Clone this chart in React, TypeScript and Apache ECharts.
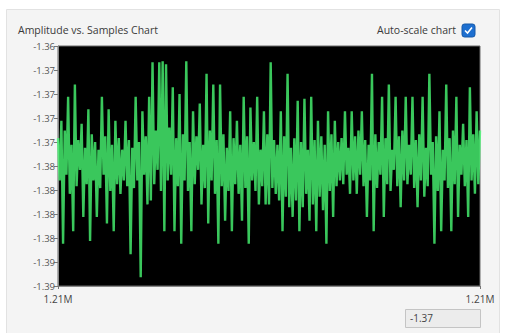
import React, { useEffect, useRef } from "react";
import * as echarts from "echarts";

// Acquired amplitude samples (volts), one per sample index
const amplitudes: number[] = [
  -1.3721, -1.3765, -1.3703, -1.3831, -1.3713, -1.3759, -1.3678, -1.3779, -1.3728, -1.3818,
  -1.3665, -1.3771, -1.3723, -1.3754, -1.3706, -1.3803, -1.3731, -1.3769, -1.3691, -1.3828,
  -1.3717, -1.3765, -1.3725, -1.3803, -1.3733, -1.3773, -1.3678, -1.3759, -1.3719, -1.3810,
  -1.3691, -1.3776, -1.3728, -1.3818, -1.3703, -1.3769, -1.3721, -1.3779, -1.3733, -1.3765,
  -1.3703, -1.3771, -1.3723, -1.3842, -1.3731, -1.3773, -1.3678, -1.3765, -1.3725, -1.3866,
  -1.3693, -1.3759, -1.3719, -1.3790, -1.3678, -1.3786, -1.3642, -1.3769, -1.3713, -1.3754,
  -1.3642, -1.3776, -1.3641, -1.3818, -1.3644, -1.3765, -1.3710, -1.3759, -1.3668, -1.3818,
  -1.3721, -1.3771, -1.3675, -1.3831, -1.3717, -1.3765, -1.3641, -1.3776, -1.3725, -1.3818,
  -1.3693, -1.3769, -1.3719, -1.3754, -1.3685, -1.3790, -1.3728, -1.3773, -1.3654, -1.3810,
  -1.3713, -1.3765, -1.3665, -1.3779, -1.3723, -1.3831, -1.3665, -1.3771, -1.3717, -1.3807,
  -1.3731, -1.3776, -1.3693, -1.3818, -1.3721, -1.3769, -1.3703, -1.3779, -1.3728, -1.3807,
  -1.3678, -1.3773, -1.3719, -1.3831, -1.3689, -1.3765, -1.3725, -1.3776, -1.3678, -1.3790,
  -1.3733, -1.3771, -1.3693, -1.3790, -1.3717, -1.3790, -1.3642, -1.3773, -1.3723, -1.3779,
  -1.3728, -1.3786, -1.3693, -1.3818, -1.3719, -1.3782, -1.3654, -1.3793, -1.3731, -1.3803,
  -1.3721, -1.3786, -1.3682, -1.3818, -1.3725, -1.3793, -1.3680, -1.3779, -1.3733, -1.3807,
  -1.3678, -1.3790, -1.3723, -1.3818, -1.3703, -1.3782, -1.3719, -1.3796, -1.3728, -1.3831,
  -1.3693, -1.3776, -1.3717, -1.3803, -1.3703, -1.3771, -1.3725, -1.3765, -1.3721, -1.3769,
  -1.3693, -1.3759, -1.3731, -1.3779, -1.3693, -1.3765, -1.3719, -1.3779, -1.3713, -1.3759,
  -1.3693, -1.3771, -1.3723, -1.3803, -1.3728, -1.3765, -1.3654, -1.3818, -1.3717, -1.3773,
  -1.3725, -1.3759, -1.3678, -1.3803, -1.3721, -1.3769, -1.3665, -1.3776, -1.3733, -1.3754,
  -1.3678, -1.3771, -1.3719, -1.3793, -1.3713, -1.3765, -1.3678, -1.3769, -1.3728, -1.3759,
  -1.3678, -1.3773, -1.3723, -1.3793, -1.3717, -1.3765, -1.3678, -1.3782, -1.3731, -1.3771,
  -1.3654, -1.3759, -1.3725, -1.3831, -1.3719, -1.3776, -1.3693, -1.3818, -1.3733, -1.3765,
  -1.3665, -1.3773, -1.3721, -1.3818, -1.3713, -1.3769, -1.3678, -1.3803, -1.3728, -1.3759,
  -1.3706, -1.3771, -1.3723, -1.3803, -1.3668, -1.3765, -1.3717, -1.3779, -1.3693, -1.3769,
  -1.3713,
];

// First sample index of the displayed window and the window length
const SAMPLE_START = 1210000;
const SAMPLE_SPAN = 250;

// Amplitude axis settings (volts)
const Y_MIN = -1.3875;
const Y_MAX = -1.3625;
const Y_STEP = 0.0025;

const CHART_TITLE = "Amplitude vs. Samples Chart";
const AUTOSCALE_LABEL = "Auto-scale chart";
const CURRENT_VALUE = "-1.37";

const formatAmplitude = (v: number): string => {
  const r = Math.round(Math.abs(v) * 100 + 1e-6) / 100;
  return (v < 0 ? "-" : "") + r.toFixed(2);
};

const formatSample = (v: number): string => (v / 1e6).toFixed(2) + "M";

export default function App() {
  const ref = useRef<HTMLDivElement>(null);

  useEffect(() => {
    if (!ref.current) return;
    const chart = echarts.init(ref.current, undefined, { renderer: "svg" });
    const points = amplitudes.map((v, i) => [SAMPLE_START + i, v]);
    const font = "'Open Sans', 'DejaVu Sans', sans-serif";

    chart.setOption({
      animation: false,
      backgroundColor: "#ffffff",
      textStyle: { fontFamily: font },
      graphic: [
        {
          type: "rect",
          shape: { x: 6.5, y: 9.5, width: 493, height: 330 },
          style: { fill: "#f4f4f4", stroke: "#e2e2e2", lineWidth: 1 },
          z: -10,
        },
        {
          type: "text",
          left: 18,
          top: 24,
          style: { text: CHART_TITLE, fill: "#3a3a3a", fontSize: 10.5, fontFamily: font },
        },
        {
          type: "text",
          right: 51,
          top: 24,
          style: { text: AUTOSCALE_LABEL, fill: "#3a3a3a", fontSize: 10.5, fontFamily: font },
        },
        {
          type: "rect",
          shape: { x: 462, y: 24, width: 13, height: 13, r: 2.5 },
          style: { fill: "#1d6fd0", stroke: "#1558a8", lineWidth: 1 },
        },
        {
          type: "polyline",
          shape: { points: [[465, 30.5], [467.5, 33], [472, 27.5]] },
          style: { stroke: "#ffffff", lineWidth: 1.6, fill: "none" },
        },
        {
          type: "rect",
          shape: { x: 405.5, y: 309.5, width: 75, height: 18 },
          style: { fill: "#ececec", stroke: "#c4c4c4", lineWidth: 1 },
        },
        {
          type: "text",
          left: 410,
          top: 313,
          style: { text: CURRENT_VALUE, fill: "#444", fontSize: 10, fontFamily: font },
        },
      ],
      grid: {
        left: 58,
        right: 27,
        top: 46,
        bottom: 47,
        show: true,
        backgroundColor: "#000000",
        borderColor: "#6a6a6a",
        borderWidth: 1,
      },
      xAxis: {
        type: "value",
        min: SAMPLE_START,
        max: SAMPLE_START + SAMPLE_SPAN,
        interval: SAMPLE_SPAN,
        splitLine: { show: false },
        axisLine: { show: true, lineStyle: { color: "#888" } },
        axisTick: { show: true, length: 3, lineStyle: { color: "#777" } },
        axisLabel: {
          formatter: formatSample,
          color: "#444",
          fontSize: 10,
          margin: 8,
          showMinLabel: true,
          showMaxLabel: true,
        },
      },
      yAxis: {
        type: "value",
        min: Y_MIN,
        max: Y_MAX,
        interval: Y_STEP,
        splitLine: { show: false },
        axisLine: { show: true, lineStyle: { color: "#888" } },
        axisTick: { show: true, length: 4, lineStyle: { color: "#777" } },
        axisLabel: {
          formatter: formatAmplitude,
          color: "#555",
          fontSize: 9.5,
          margin: 3,
        },
      },
      series: [
        {
          type: "line",
          data: points,
          showSymbol: false,
          symbol: "none",
          lineStyle: { color: "rgba(74, 255, 118, 0.78)", width: 2.4 },
          silent: true,
        },
      ],
    });

    return () => chart.dispose();
  }, []);

  return (
    <div
      ref={ref}
      style={{ position: "fixed", left: 0, top: 0, width: 507, height: 333 }}
    />
  );
}
